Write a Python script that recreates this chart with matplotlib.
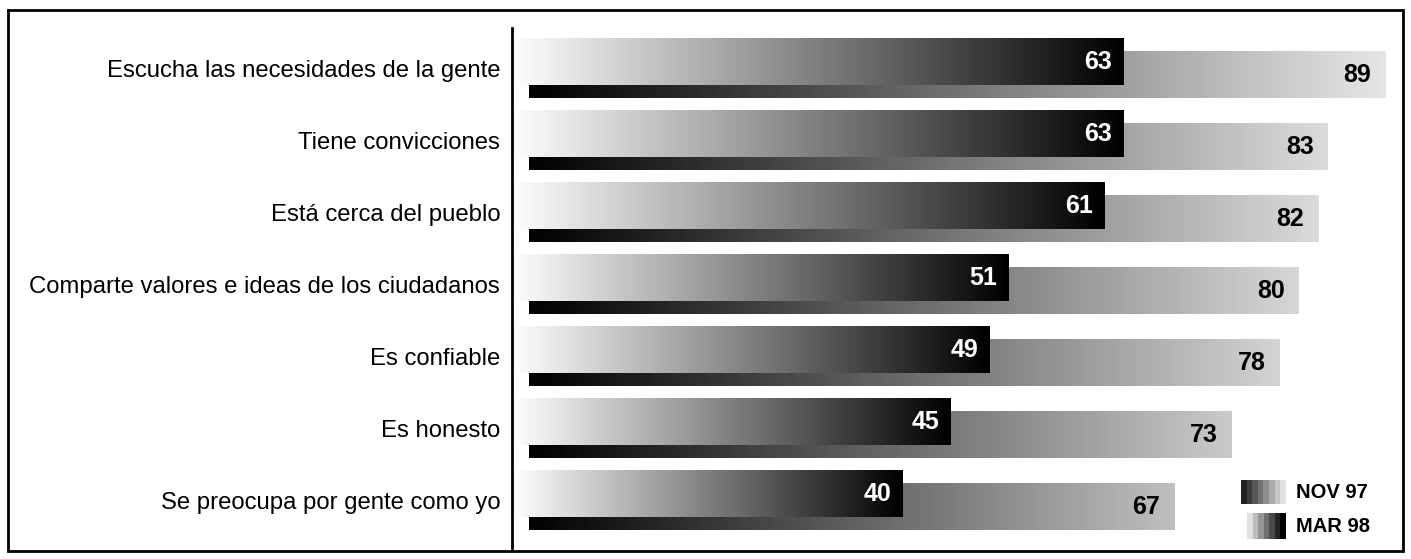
import numpy as np
import matplotlib
matplotlib.use("Agg")
import matplotlib.pyplot as plt
from matplotlib.patches import Rectangle

plt.rcParams['font.family'] = ['Liberation Sans', 'DejaVu Sans']

# --- Datos ---
categorias = [
    "Escucha las necesidades de la gente",
    "Tiene convicciones",
    "Está cerca del pueblo",
    "Comparte valores e ideas de los ciudadanos",
    "Es confiable",
    "Es honesto",
    "Se preocupa por gente como yo",
]
nov97 = [63, 63, 61, 51, 49, 45, 40]
mar98 = [89, 83, 82, 80, 78, 73, 67]

W, H = 1411, 559
fig = plt.figure(figsize=(W / 100, H / 100), dpi=100)

# eje principal: línea vertical en x=512 px, de y=28 a y=548 px
ax_left, ax_right = 512, 1403
ax_top, ax_bot = 28, 548
ax = fig.add_axes([ax_left / W, (H - ax_bot) / H,
                   (ax_right - ax_left) / W, (ax_bot - ax_top) / H])

px_unit = 9.6      # pixeles por punto
x0_px = 519        # posición del cero
desp = 1.0         # desplazamiento de la barra trasera (efecto profundidad)
alto = 0.64
off = 0.09

for i, (v1, v2) in enumerate(zip(nov97, mar98)):
    # MAR 98: negro -> gris claro, detrás
    fin = 0.75 + (v2 - 67) * 0.0068
    grad = np.linspace(0.0, fin, 256).reshape(1, -1)
    yc = i + off
    ax.imshow(grad, cmap='gray', vmin=0, vmax=1, aspect='auto',
              extent=(desp, v2 + desp + 0.2, yc + alto / 2, yc - alto / 2),
              interpolation='nearest', zorder=1)
    ax.text(v2 + desp - 1.2, yc, str(v2), ha='right', va='center',
            fontsize=18, fontweight='bold', color='black', zorder=4)

    # NOV 97: casi blanco -> negro, delante
    grad = np.linspace(0.98, 0.0, 256).reshape(1, -1)
    yc = i - off
    ax.imshow(grad, cmap='gray', vmin=0, vmax=1, aspect='auto',
              extent=(0, v1, yc + alto / 2, yc - alto / 2),
              interpolation='nearest', zorder=2)
    ax.text(v1 - 1.2, yc, str(v1), ha='right', va='center',
            fontsize=18, fontweight='bold', color='white', zorder=4)

ax.set_xlim((ax_left - x0_px) / px_unit, (ax_right - x0_px) / px_unit)
ax.set_ylim((ax_bot - 68.5) / 72, (ax_top - 68.5) / 72)
ax.set_yticks(range(len(categorias)))
ax.set_yticklabels(categorias, fontsize=17.2)
ax.tick_params(axis='y', length=0, pad=8.5)
ax.set_xticks([])
for s in ['top', 'right', 'bottom']:
    ax.spines[s].set_visible(False)
ax.spines['left'].set_linewidth(2)
ax.patch.set_alpha(0)

# capa de pixeles para marco y leyenda
ov = fig.add_axes([0, 0, 1, 1], zorder=5)
ov.set_xlim(0, W)
ov.set_ylim(H, 0)
ov.axis('off')
ov.patch.set_alpha(0)
ov.add_patch(Rectangle((8, 10), 1395, 541, fill=False, lw=2, ec='black'))

niv_nov = np.linspace(0.13, 0.88, 8).reshape(1, -1)
niv_mar = np.linspace(0.88, 0.0, 7).reshape(1, -1)
ov.imshow(niv_nov, cmap='gray', vmin=0, vmax=1, aspect='auto',
          extent=(1241, 1286, 504, 480), interpolation='nearest')
ov.imshow(niv_mar, cmap='gray', vmin=0, vmax=1, aspect='auto',
          extent=(1247, 1286, 539, 513), interpolation='nearest')
ov.set_xlim(0, W)
ov.set_ylim(H, 0)
ov.text(1296, 493, "NOV 97", fontsize=14.5, fontweight='bold', va='center')
ov.text(1296, 527, "MAR 98", fontsize=14.5, fontweight='bold', va='center')

fig.savefig("out.png", dpi=100)
